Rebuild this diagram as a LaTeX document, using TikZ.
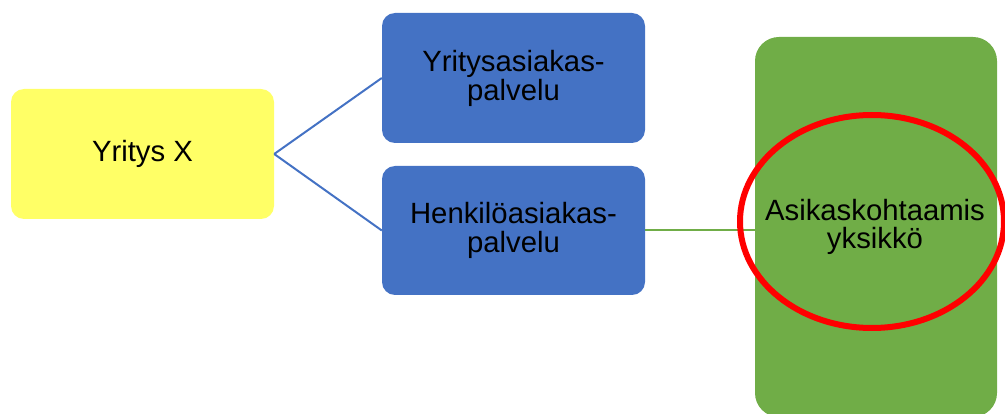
\documentclass[tikz,border=0pt]{standalone}
\usepackage{fontspec}
\setmainfont{Liberation Sans}
\definecolor{boxyellow}{HTML}{FFFF66}
\definecolor{boxblue}{HTML}{4472C4}
\definecolor{boxgreen}{HTML}{70AD47}
\definecolor{ringred}{HTML}{FF0000}
\begin{document}
\begin{tikzpicture}[x=1pt,y=-1pt,
  box/.style={rounded corners=13pt, inner sep=0pt, align=center,
    font=\fontsize{29.3}{29}\selectfont, text=black},
  link/.style={line width=2pt}]
\useasboundingbox (0,0) rectangle (1005,414);
\clip (0,0) rectangle (1005,414);
\node[box, fill=boxyellow, minimum width=263pt, minimum height=130pt] (yx) at (142.5,154) {Yritys X};
\node[box, fill=boxblue, minimum width=263pt, minimum height=130pt] (yap) at (513.5,78) {Yritysasiakas-\\palvelu};
\node[box, fill=boxblue, minimum width=263pt, minimum height=129pt] (hap) at (513.5,230.5) {Henkilöasiakas-\\palvelu};
\node[box, rounded corners=24pt, fill=boxgreen, minimum width=242pt, minimum height=380pt] (aky) at (876,227) {};
\node[font=\fontsize{29.3}{28}\selectfont, align=center, inner sep=0pt] (akyt) at (875,227) {Asikaskohtaamis\\yksikkö};
\draw[link, boxblue] (yx.east) -- (yap.west);
\draw[link, boxblue] (yx.east) -- (hap.west);
\draw[link, boxgreen] (hap.east) -- (hap.east -| aky.west);
\coordinate (ringc) at (872,221.5);
\draw[ringred, line width=6pt] (ringc) ellipse [x radius=132pt, y radius=106.5pt];
\end{tikzpicture}
\end{document}
